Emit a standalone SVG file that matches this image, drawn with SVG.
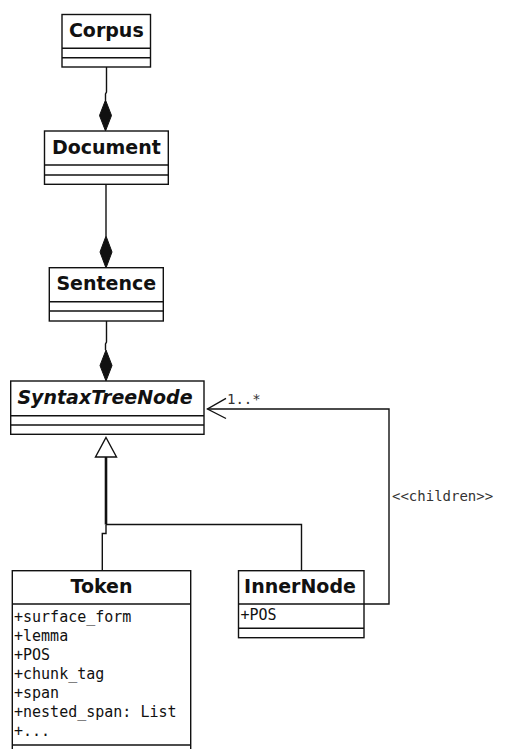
<svg xmlns="http://www.w3.org/2000/svg" width="505" height="749" viewBox="0 0 505 749">
<style>
.box{fill:#fff;stroke:#111;stroke-width:1.4}
.ln{fill:none;stroke:#111;stroke-width:1.4}
.title{font-family:"DejaVu Sans",sans-serif;font-weight:bold;font-size:19px;fill:#111;text-anchor:middle}
.ital{font-style:italic}
.attr{font-family:"DejaVu Sans Mono",monospace;font-size:15px;fill:#111}
.lbl{font-family:"DejaVu Sans Mono",monospace;font-size:14px;fill:#333}
</style>
<rect width="505" height="749" fill="#fff"/>
<g id="connectors">
  <!-- Corpus - Document composition -->
  <polyline class="ln" points="106.5,67 106.5,92 105.5,94 105.5,100"/>
  <polygon points="105.5,100 111.5,115.5 105.5,131 99.5,115.5" fill="#111" stroke="#111" stroke-width="1"/>
  <!-- Document - Sentence composition -->
  <line class="ln" x1="106" y1="184" x2="106" y2="236"/>
  <polygon points="106,236 112,252 106,268 100,252" fill="#111" stroke="#111" stroke-width="1"/>
  <!-- Sentence - SyntaxTreeNode composition -->
  <polyline class="ln" points="106.5,321 106.5,342 105.5,344 105.5,350"/>
  <polygon points="106,350 112,365.5 106,381 100,365.5" fill="#111" stroke="#111" stroke-width="1"/>
  <!-- Generalization -->
  <polygon points="106,437.5 116.5,457 95.5,457" fill="#fff" stroke="#111" stroke-width="1.4"/>
  <line x1="106" y1="457" x2="106" y2="524.5" stroke="#111" stroke-width="2.6"/>
  <polyline class="ln" points="106,524.5 301.5,524.5 301.5,571"/>
  <polyline class="ln" points="106,524.5 106,533.5 102.3,533.5 102.3,571"/>
  <!-- children association -->
  <polyline class="ln" points="364,604 389,604 389,409 207.5,409"/>
  <polyline class="ln" points="226,398.3 207.5,409 226,418.5"/>
  <text class="lbl" x="227" y="404">1..*</text>
  <text class="lbl" x="392" y="501">&lt;&lt;children&gt;&gt;</text>
</g>
<g id="Corpus">
  <rect class="box" x="62" y="14.5" width="88.5" height="52.5"/>
  <line class="ln" x1="62" y1="48.3" x2="150.5" y2="48.3"/>
  <line class="ln" x1="62" y1="57.7" x2="150.5" y2="57.7"/>
  <text class="title" x="106.3" y="37">Corpus</text>
</g>
<g id="Document">
  <rect class="box" x="44.5" y="131" width="123.8" height="53.3"/>
  <line class="ln" x1="44.5" y1="165" x2="168.3" y2="165"/>
  <line class="ln" x1="44.5" y1="175" x2="168.3" y2="175"/>
  <text class="title" x="106.4" y="154">Document</text>
</g>
<g id="Sentence">
  <rect class="box" x="49.3" y="267.7" width="114" height="53.3"/>
  <line class="ln" x1="49.3" y1="301.7" x2="163.3" y2="301.7"/>
  <line class="ln" x1="49.3" y1="311" x2="163.3" y2="311"/>
  <text class="title" x="106.3" y="290">Sentence</text>
</g>
<g id="SyntaxTreeNode">
  <rect class="box" x="10.7" y="381" width="193.3" height="53.3"/>
  <line class="ln" x1="10.7" y1="415.7" x2="204" y2="415.7"/>
  <line class="ln" x1="10.7" y1="425" x2="204" y2="425"/>
  <text class="title ital" x="105" y="404">SyntaxTreeNode</text>
</g>
<g id="Token">
  <rect class="box" x="12.3" y="570.7" width="178.4" height="185"/>
  <line class="ln" x1="12.3" y1="604" x2="190.7" y2="604"/>
  <line class="ln" x1="12.3" y1="745" x2="190.7" y2="745"/>
  <text class="title" x="101.5" y="593">Token</text>
  <text class="attr" x="14" y="622">+surface_form</text>
  <text class="attr" x="14" y="641">+lemma</text>
  <text class="attr" x="14" y="660">+POS</text>
  <text class="attr" x="14" y="679">+chunk_tag</text>
  <text class="attr" x="14" y="698">+span</text>
  <text class="attr" x="14" y="717">+nested_span: List</text>
  <text class="attr" x="14" y="736">+...</text>
</g>
<g id="InnerNode">
  <rect class="box" x="238.5" y="570.7" width="125.5" height="67"/>
  <line class="ln" x1="238.5" y1="604" x2="364" y2="604"/>
  <line class="ln" x1="238.5" y1="628.3" x2="364" y2="628.3"/>
  <text class="title" x="300" y="593">InnerNode</text>
  <text class="attr" x="240.5" y="620">+POS</text>
</g>
</svg>
